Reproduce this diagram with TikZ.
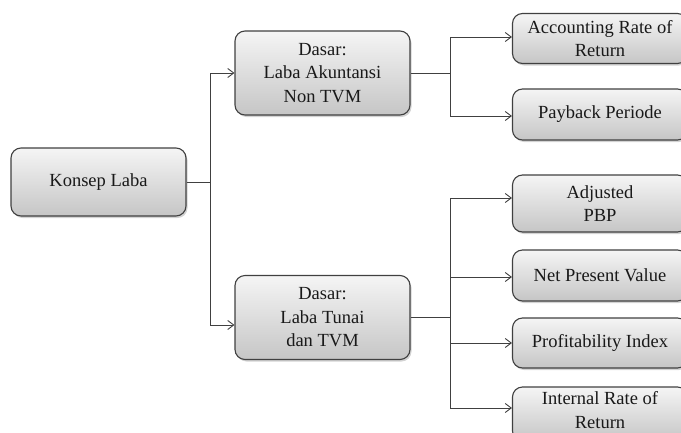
\documentclass[tikz,border=0pt]{standalone}
\usepackage{fontspec}
\setmainfont{Liberation Serif}
\usetikzlibrary{arrows.meta,shadows}
\begin{document}
\begin{tikzpicture}[x=1pt,y=-1pt,
  box/.style={draw=black!75, line width=1.1pt, rounded corners=10pt,
    top color=gray!8, bottom color=gray!45, align=center,
    font=\fontsize{18.5}{23.5}\selectfont, text=black!90,
    inner sep=0pt,
    drop shadow={shadow xshift=1.5pt, shadow yshift=-2pt, opacity=0.35}},
  link/.style={draw=black!75, line width=0.9pt},
  arr/.style={link, -{Straight Barb[length=6pt,width=9pt,line width=0.9pt]}}]
  \clip (0,0) rectangle (681,432);
  \useasboundingbox (0,0) rectangle (681,432);

  % root
  \node[box, minimum width=175pt, minimum height=68pt] (konsep) at (98.5,182) {Konsep Laba};

  % second level
  \node[box, minimum width=175pt, minimum height=84pt] (dasarA) at (322.5,73) {Dasar:\\Laba Akuntansi\\Non TVM};
  \node[box, minimum width=175pt, minimum height=84pt] (dasarB) at (322.5,317.5) {Dasar:\\Laba Tunai\\dan TVM};

  % methods
  \node[box, minimum width=175pt, minimum height=50pt] (arr) at (600,38.5) {Accounting Rate of\\Return};
  \node[box, minimum width=175pt, minimum height=51pt] (pbk) at (600,114.5) {Payback Periode};
  \node[box, minimum width=175pt, minimum height=57pt] (adj) at (600,203.5) {Adjusted\\PBP};
  \node[box, minimum width=175pt, minimum height=51pt] (npv) at (600,275.5) {Net Present Value};
  \node[box, minimum width=175pt, minimum height=50pt] (pi) at (600,343) {Profitability Index};
  % last box runs past the lower edge; the strut lifts its text
  \node[box, minimum width=175pt, minimum height=54pt] (irr) at (600,414) {Internal Rate of\\Return\rule[-8pt]{0pt}{8pt}};

  % root to second level
  \draw[link] (konsep.east) -- (210,182) coordinate (j0);
  \draw[arr] (j0) |- (dasarA.west);
  \draw[arr] (j0) |- ([yshift=-7.5pt]dasarB.west);

  % non-TVM methods
  \draw[link] (dasarA.east) -- (450,73) coordinate (j1);
  \draw[arr] (j1) |- ([yshift=1.5pt]arr.west);
  \draw[arr] (j1) |- ([yshift=-1.5pt]pbk.west);

  % TVM methods
  \draw[link] (dasarB.east) -- (450,317.5) coordinate (j2);
  \draw[arr] (j2) |- ([yshift=5.5pt]adj.west);
  \draw[arr] (j2) |- ([yshift=-1.5pt]npv.west);
  \draw[arr] (j2) |- (pi.west);
  \draw[arr] (j2) |- ([yshift=6pt]irr.west);
\end{tikzpicture}
\end{document}
